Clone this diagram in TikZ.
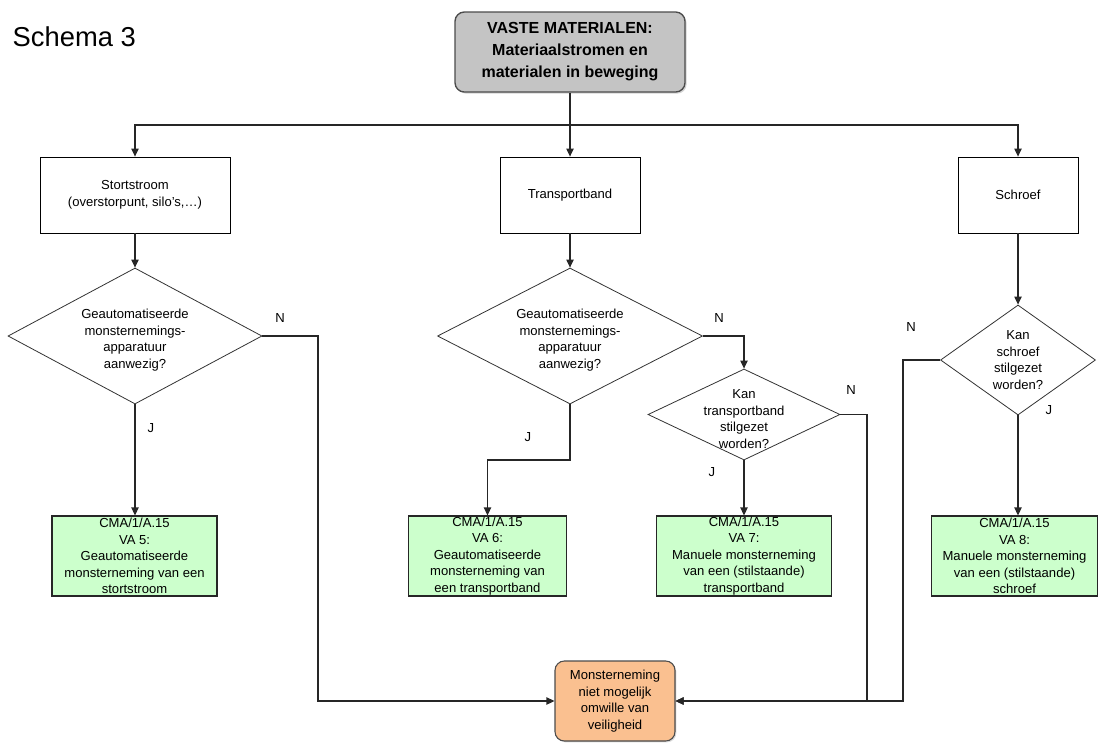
\documentclass[tikz,border=0pt]{standalone}
\usepackage{fontspec}
\setmainfont{Liberation Sans}
\usetikzlibrary{shapes.geometric,arrows.meta,shadows}
\definecolor{topgray}{HTML}{C4C4C4}
\definecolor{vagreen}{HTML}{CCFFCC}
\definecolor{peach}{HTML}{FAC090}
\tikzset{
  txt/.style={font=\fontsize{9.8}{12.4}\selectfont, align=center},
  wbox/.style={draw=black, line width=0.6pt, fill=white, inner sep=0pt, txt},
  gbox/.style={draw=black!85, line width=0.8pt, fill=vagreen, inner sep=0pt, txt, minimum height=60pt},
  dia/.style={draw=black!80, line width=0.6pt, diamond, inner sep=0pt, fill=white},
  conn/.style={draw=black!85, line width=0.8pt},
  arr/.style={conn, -{Triangle[length=6pt,width=5.5pt]}},
  yn/.style={font=\fontsize{9.8}{11}\selectfont},
}
\begin{document}
\begin{tikzpicture}[x=0.75pt,y=-0.75pt]
\useasboundingbox (0,0) rectangle (1099,743);
\node[anchor=west, font=\fontsize{20.5}{24}\selectfont] (title) at (8,37) {Schema 3};
% top
\node[draw=black!70, line width=1pt, rounded corners=7pt, fill=topgray,
      minimum width=172.5pt, minimum height=60pt, align=center,
      font=\bfseries\fontsize{12}{16.5}\selectfont,
      drop shadow={shadow xshift=1.2pt, shadow yshift=-1.2pt, opacity=0.35}] (top) at (570,52)
  {VASTE MATERIALEN:\\Materiaalstromen en\\materialen in beweging};
% level 1
\node[wbox, minimum width=142.5pt, minimum height=57pt] (stort) at (135,195) {Stortstroom\\(overstorpunt, silo's,\dots)};
\node[wbox, minimum width=105pt, minimum height=57pt] (tb) at (570,195) {Transportband};
\node[wbox, minimum width=90pt, minimum height=57pt] (schroef) at (1018,195) {Schroef};
% diamonds
\node[dia, minimum width=190.5pt, minimum height=102pt] (d1) at (135,336) {};
\node[txt] (d1t) at (135,340) {Geautomatiseerde\\monsternemings-\\apparatuur\\aanwezig?};
\node[dia, minimum width=198.75pt, minimum height=102pt] (dm) at (570,336) {};
\node[txt] (dmt) at (570,340) {Geautomatiseerde\\monsternemings-\\apparatuur\\aanwezig?};
\node[dia, minimum width=144pt, minimum height=68.25pt] (d2) at (744,414.5) {};
\node[txt] (d2t) at (744,419) {Kan\\transportband\\stilgezet\\worden?};
\node[dia, minimum width=116.25pt, minimum height=82.5pt] (d3) at (1018,360) {};
\node[txt] (d3t) at (1018,360) {Kan\\schroef\\stilgezet\\worden?};
% green boxes
\node[gbox, minimum width=123.75pt] (g1) at (134.5,556) {CMA/1/A.15\\VA 5:\\Geautomatiseerde\\monsterneming van een\\stortstroom};
\node[gbox, minimum width=119pt] (g2) at (487.5,556) {CMA/1/A.15\\VA 6:\\Geautomatiseerde\\monsterneming van\\een transportband};
\node[gbox, minimum width=131pt] (g3) at (744,556) {CMA/1/A.15\\VA 7:\\Manuele monsterneming\\van een (stilstaande)\\transportband};
\node[gbox, minimum width=124.5pt] (g4) at (1014.5,556) {CMA/1/A.15\\VA 8:\\Manuele monsterneming\\van een (stilstaande)\\schroef};
% orange
\node[draw=black!70, line width=0.8pt, rounded corners=7pt, fill=peach, txt,
      minimum width=90pt, minimum height=60pt, inner sep=0pt,
      drop shadow={shadow xshift=1pt, shadow yshift=-1pt, opacity=0.3}] (or) at (615,701)
  {Monsterneming\\niet mogelijk\\omwille van\\veiligheid};
% coordinates
\coordinate (jn) at (570,125);
\coordinate (c1) at (318,336);
\coordinate (c2) at (570,460);
\coordinate (c3) at (867,414.5);
\coordinate (c4) at (903,360);
% connectors
\draw[conn, line width=1.2pt] (top.south) -- (jn);
\draw[arr] (jn) -| (stort.north);
\draw[arr] (jn) -| (schroef.north);
\draw[arr] (jn) -- (tb.north);
\draw[arr] (stort.south) -- (d1.north);
\draw[arr] (tb.south) -- (dm.north);
\draw[arr] (schroef.south) -- (d3.north);
\draw[arr] (d1.south) -- (d1.south |- g1.north);
\draw[arr] (d1.east) -- (c1) |- (or.west);
\draw[arr] (dm.east) -| (d2.north);
\draw[arr] (dm.south) -- (c2) -| (g2.north);
\draw[arr] (d2.east) -- (c3) |- (or.east);
\draw[arr] (d2.south) -- (d2.south |- g3.north);
\draw[arr] (d3.west) -- (c4) |- (or.east);
\draw[arr] (d3.south) -- (d3.south |- g4.north);
% labels
\node[yn] (n1) at (280,318) {N};
\node[yn] (j1) at (151,428) {J};
\node[yn] (n2) at (719,318) {N};
\node[yn] (j2) at (528,437) {J};
\node[yn] (n3) at (851,390) {N};
\node[yn] (j3) at (712,472) {J};
\node[yn] (n4) at (911,327) {N};
\node[yn] (j4) at (1049,410) {J};
\end{tikzpicture}
\end{document}
